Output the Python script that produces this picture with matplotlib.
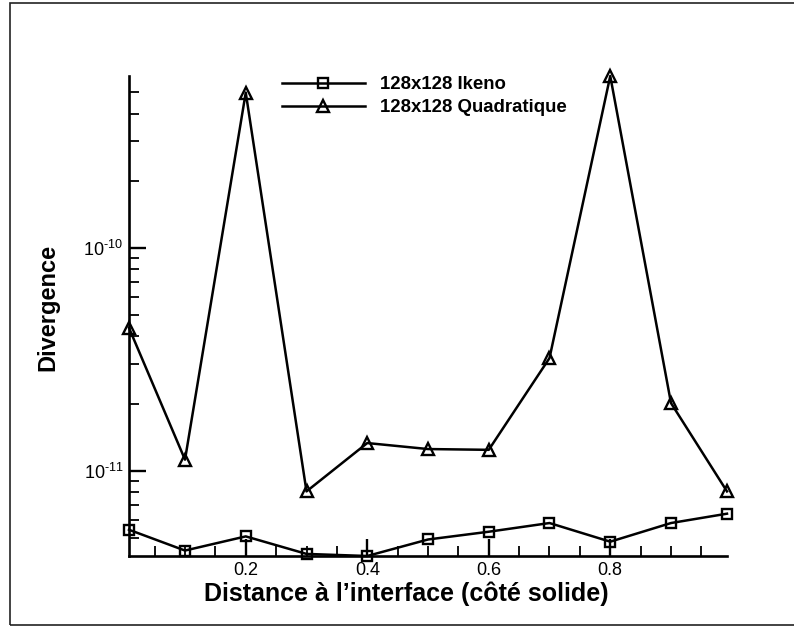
import numpy as np
import matplotlib
matplotlib.use("Agg")
import matplotlib.pyplot as plt
from matplotlib.ticker import LogLocator, MultipleLocator, FixedLocator, FuncFormatter, NullFormatter
from matplotlib.patches import Rectangle

plt.rcParams['font.family'] = ['Liberation Sans', 'DejaVu Sans']
plt.rcParams['mathtext.fontset'] = 'custom'
plt.rcParams['mathtext.rm'] = 'Liberation Sans'
plt.rcParams['mathtext.it'] = 'Liberation Sans'

distance = [1/128, 0.1, 0.2, 0.3, 0.4, 0.5, 0.6, 0.7, 0.8, 0.9, 127/128]
div_ikeno = [5.43e-12, 4.38e-12, 5.07e-12, 4.23e-12, 4.14e-12, 4.91e-12,
             5.32e-12, 5.82e-12, 4.80e-12, 5.82e-12, 6.41e-12]
div_quad = [4.37e-11, 1.12e-11, 4.97e-10, 8.07e-12, 1.33e-11, 1.25e-11,
            1.24e-11, 3.2e-11, 5.9e-10, 2.01e-11, 8.07e-12]
x_ticks = [0.2, 0.4, 0.6, 0.8]
y_ticks = [1e-11, 1e-10]

fig = plt.figure(figsize=(7.94, 6.28), dpi=100)
ax = fig.add_axes([129/794, 1 - 556/628, (727 - 129)/794, (556 - 76)/628])

# outer frame (cut off on the right side like the original)
fig.patches.append(Rectangle((10/794, 3/628), 1.0, 622/628, transform=fig.transFigure,
                             fill=False, edgecolor='#222222', linewidth=1.2))

ax.plot(distance, div_ikeno, color='black', lw=1.8, marker='s', ms=7.5,
        mfc='none', mec='black', mew=1.7, label='128x128 Ikeno', clip_on=False)
ax.plot(distance, div_quad, color='black', lw=1.8, marker='^', ms=9,
        mfc='none', mec='black', mew=1.7, label='128x128 Quadratique', clip_on=False)

ax.set_yscale('log')
ax.set_xlim(min(distance), max(distance))
ax.set_ylim(min(div_ikeno), max(div_quad))

ax.xaxis.set_major_locator(FixedLocator(x_ticks))
ax.xaxis.set_minor_locator(MultipleLocator(0.05))
ax.xaxis.set_major_formatter(FuncFormatter(lambda v, p: f"{v:.1f}"))
ax.yaxis.set_major_locator(FixedLocator(y_ticks))
ax.yaxis.set_minor_locator(LogLocator(base=10, subs=np.arange(2, 10)))
ax.yaxis.set_minor_formatter(NullFormatter())
ax.yaxis.set_major_formatter(FuncFormatter(lambda v, p: r'$10^{\text{%d}}$' % round(np.log10(v))))

for s in ['top', 'right']:
    ax.spines[s].set_visible(False)
for s in ['left', 'bottom']:
    ax.spines[s].set_linewidth(1.9)

ax.tick_params(which='major', direction='in', length=12, width=1.7, labelsize=13, pad=4)
ax.tick_params(which='minor', direction='in', length=7, width=1.3)

ax.set_xlabel("Distance à l’interface (côté solide)", fontsize=18, fontweight='bold')
ax.set_ylabel("Divergence", fontsize=17, fontweight='bold')
ax.xaxis.set_label_coords(0.464, -0.053)
ax.yaxis.set_label_coords(-0.117, 0.517)

ax.legend(loc='upper left', bbox_to_anchor=(0.256, 1.0), frameon=False, borderpad=0,
          borderaxespad=0, prop={'size': 13.4, 'weight': 'bold'}, handlelength=4.45,
          handletextpad=0.8, labelspacing=0.33)

fig.savefig("out.png", dpi=100)
